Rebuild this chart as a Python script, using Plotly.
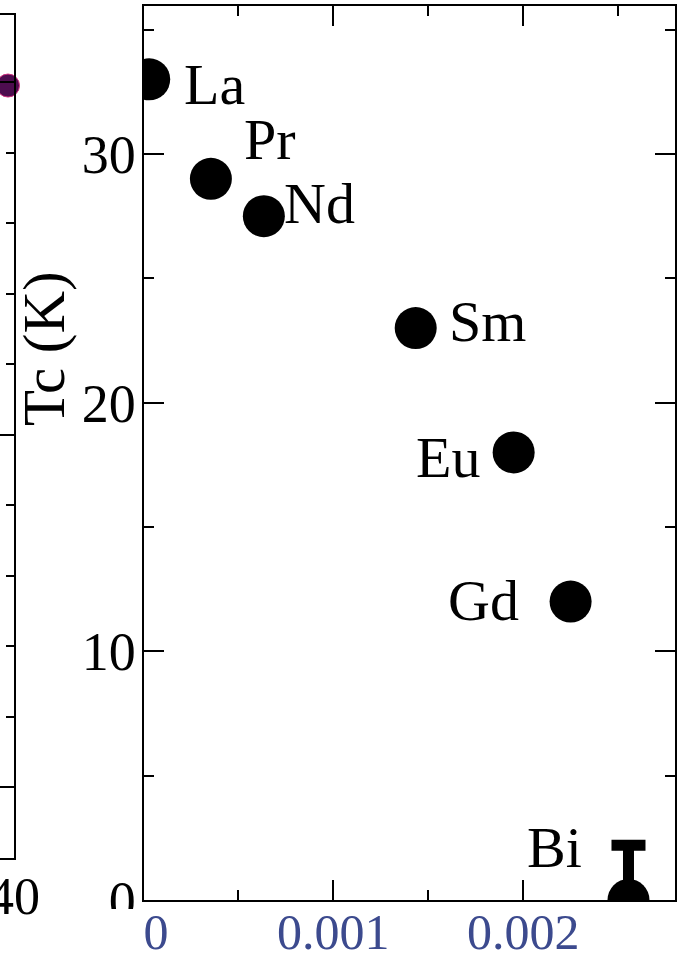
import plotly.graph_objects as go

# Rare-earth series: x value, Tc (K)
elements = ["La", "Pr", "Nd", "Sm", "Eu", "Gd", "Bi"]
x_vals = [0.00003, 0.000355, 0.000634, 0.001434, 0.00195, 0.00225, 0.002555]
tc_vals = [33.0, 29.0, 27.5, 23.0, 18.0, 12.0, 0.0]
tc_err_plus = [0, 0, 0, 0, 0, 0, 2.2]

# Neighbouring panel (partially shown)
side_x = [35.7]
side_y = [14.95]

x_ticks = [0, 0.001, 0.002]
x_tick_text = ["\u00a0\u00a00", "0.001", "0.002"]
y_ticks = [0, 10, 20, 30]

# label offsets in pixels (dx, dy up) around each marker
label_offsets = {
    "La": (65, -5), "Pr": (59, 39), "Nd": (56, 13), "Sm": (72, 7),
    "Eu": (-66, -5), "Gd": (-87, 1), "Bi": (-74, 53),
}

W, H = 677, 960
ML, MR, MT, MB = 0, 2, 6, 60
PW = W - ML - MR
PH = H - MT - MB

def px_x(p):
    return (p - ML) / PW

def px_y(p):
    return (H - MB - p) / PH

SERIF = "Liberation Serif, Times New Roman, serif"
BLUE = "#3c4a8e"

fig = go.Figure()

# main series with Bi error bar (upper bound only)
fig.add_trace(go.Scatter(
    x=x_vals, y=tc_vals, mode="markers",
    marker=dict(size=42, color="black"),
    error_y=dict(type="data", symmetric=False, array=tc_err_plus,
                 arrayminus=[0] * len(tc_vals), thickness=11, width=17,
                 color="black"),
    xaxis="x", yaxis="y", showlegend=False,
))

fig.add_trace(go.Scatter(
    x=side_x, y=side_y, mode="markers",
    marker=dict(size=23, color="#4d0d4f", line=dict(color="#d0307f", width=1)),
    cliponaxis=False, xaxis="x2", yaxis="y2", showlegend=False,
))

for el, xv, yv in zip(elements, x_vals, tc_vals):
    dx, dy = label_offsets[el]
    fig.add_annotation(
        x=xv, y=yv, xref="x", yref="y", text=el, showarrow=False,
        xshift=dx, yshift=dy, xanchor="center", yanchor="middle",
        font=dict(family=SERIF, size=58, color="black"),
    )

# y-axis title
fig.add_annotation(
    x=px_x(44), y=px_y(348), xref="paper", yref="paper", text="Tc (K)",
    textangle=-90, showarrow=False, xanchor="center", yanchor="middle",
    font=dict(family=SERIF, size=59, color="black"),
)

# white band below the frame that trims the lowest y label
fig.add_shape(
    type="rect", xref="paper", yref="paper", layer="above",
    x0=px_x(60), x1=px_x(141), y0=px_y(960), y1=px_y(909),
    fillcolor="white", line=dict(width=0),
)

axis_common = dict(showline=True, linecolor="black", linewidth=2,
                   mirror="ticks", ticks="inside", tickcolor="black",
                   tickwidth=2, showgrid=False, zeroline=False,
                   automargin=False)

fig.update_layout(
    width=W, height=H,
    margin=dict(l=ML, r=MR, t=MT, b=MB, autoexpand=False),
    paper_bgcolor="white", plot_bgcolor="white",
    xaxis=dict(
        domain=[px_x(143.5), 1], range=[0, 0.0028],
        tickvals=x_ticks, ticktext=x_tick_text, ticklen=20,
        minor=dict(dtick=0.0005, tick0=0, ticklen=10, tickwidth=2,
                   tickcolor="black", ticks="inside"),
        tickfont=dict(family=SERIF, size=50, color=BLUE),
        ticklabelstandoff=-13, ticklabeloverflow="allow",
        anchor="y", **axis_common,
    ),
    yaxis=dict(
        domain=[0, 1], range=[0, 35.95],
        tickvals=y_ticks, ticklen=20,
        minor=dict(dtick=5, tick0=0, ticklen=10, tickwidth=2,
                   tickcolor="black", ticks="inside"),
        tickfont=dict(family=SERIF, size=54, color="black"),
        ticklabelstandoff=-5, ticklabeloverflow="allow",
        anchor="x", **axis_common,
    ),
    xaxis2=dict(
        domain=[0, px_x(14)], range=[30, 40],
        tickvals=[40], ticktext=["40"], ticks="",
        showline=True, linecolor="black", linewidth=2, mirror=True,
        tickfont=dict(family=SERIF, size=52, color="black"),
        ticklabelstandoff=-8, ticklabeloverflow="allow",
        showgrid=False, zeroline=False, anchor="y2", automargin=False,
    ),
    yaxis2=dict(
        domain=[px_y(858), px_y(15)], range=[4, 15.95],
        side="right", anchor="x2",
        showline=True, linecolor="black", linewidth=2, mirror=False,
        ticks="inside", ticklen=16, tickwidth=2, tickcolor="black",
        dtick=5, tick0=0, showticklabels=False,
        minor=dict(dtick=1, ticklen=8, tickwidth=2, tickcolor="black", ticks="inside"),
        showgrid=False, zeroline=False, automargin=False,
    ),
)

fig.write_html("out.html")
